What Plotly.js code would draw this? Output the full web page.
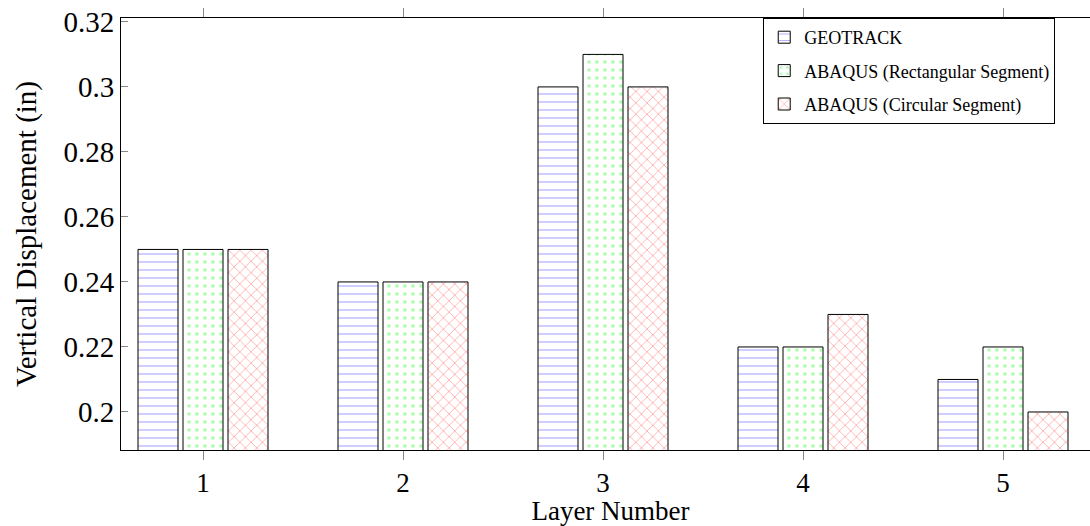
<!DOCTYPE html>
<html><head><meta charset="utf-8">
<script src="https://cdn.plot.ly/plotly-3.0.1.min.js"></script>
<style>html,body{margin:0;padding:0;overflow:hidden;background:#fff}</style>
</head><body><div id="chart"></div>
<script>
const layers = [1, 2, 3, 4, 5];
const tickLabels = ['1', '2', '3', '4', '5'];
const geotrack = [0.25, 0.24, 0.30, 0.22, 0.21];
const abaqusRect = [0.25, 0.24, 0.31, 0.22, 0.22];
const abaqusCirc = [0.25, 0.24, 0.30, 0.23, 0.20];
const seriesNames = ['GEOTRACK', 'ABAQUS (Rectangular Segment)', 'ABAQUS (Circular Segment)'];
const yTicks = [0.2, 0.22, 0.24, 0.26, 0.28, 0.3, 0.32];
const yTickLabels = ['0.2', '0.22', '0.24', '0.26', '0.28', '0.3', '0.32'];

const font = 'Liberation Serif, DejaVu Serif, serif';
function mk(name, y, shape, color, size, sol, grp) {
  return {type: 'bar', name: name, x: layers, y: y, legendgroup: grp,
    marker: {color: 'white', line: {color: '#000', width: 1},
      pattern: {shape: shape, fgcolor: color, bgcolor: 'white', size: size, solidity: sol, fillmode: 'replace'}}};
}
const data = [
  mk(seriesNames[0], geotrack, '-', '#9a9aff', 8, 0.12, 'a'),
  mk(seriesNames[1], abaqusRect, '.', '#a8ffa8', 8, 0.15, 'b'),
  mk(seriesNames[2], abaqusCirc, 'x', '#ffaaaa', 8, 0.2, 'c')
];
const layout = {
  width: 1100, height: 526,
  margin: {l: 121, r: 0, t: 18, b: 76},
  paper_bgcolor: 'white', plot_bgcolor: 'white',
  barmode: 'group', bargap: 0.325, bargroupgap: 0.111,
  font: {family: font, color: '#000'},
  showlegend: true,
  legend: {x: 0.656, y: 1, xanchor: 'left', yanchor: 'top', bordercolor: '#000', borderwidth: 1,
    bgcolor: 'white', font: {size: 18, family: font}, tracegroupgap: 7, traceorder: 'grouped'},
  xaxis: {range: [0.59, 5.485], tickvals: layers, ticktext: tickLabels, automargin: false,
    showgrid: false, zeroline: false, showline: true, linecolor: '#000', linewidth: 1, mirror: 'ticks',
    ticks: 'outside', ticklen: 9, tickcolor: '#888', tickfont: {size: 27},
    title: {text: 'Layer Number', font: {size: 27}, standoff: 2}},
  yaxis: {range: [0.1883, 0.3212], tickvals: yTicks, ticktext: yTickLabels, automargin: false,
    showgrid: false, zeroline: false, showline: true, linecolor: '#000', linewidth: 1, mirror: 'ticks',
    ticks: 'inside', ticklen: 7, tickcolor: '#888', tickfont: {size: 29},
    title: {text: 'Vertical Displacement (in)', font: {size: 29}, standoff: 18}}
};
Plotly.newPlot('chart', data, layout, {displayModeBar: false, staticPlot: true});
</script></body></html>
